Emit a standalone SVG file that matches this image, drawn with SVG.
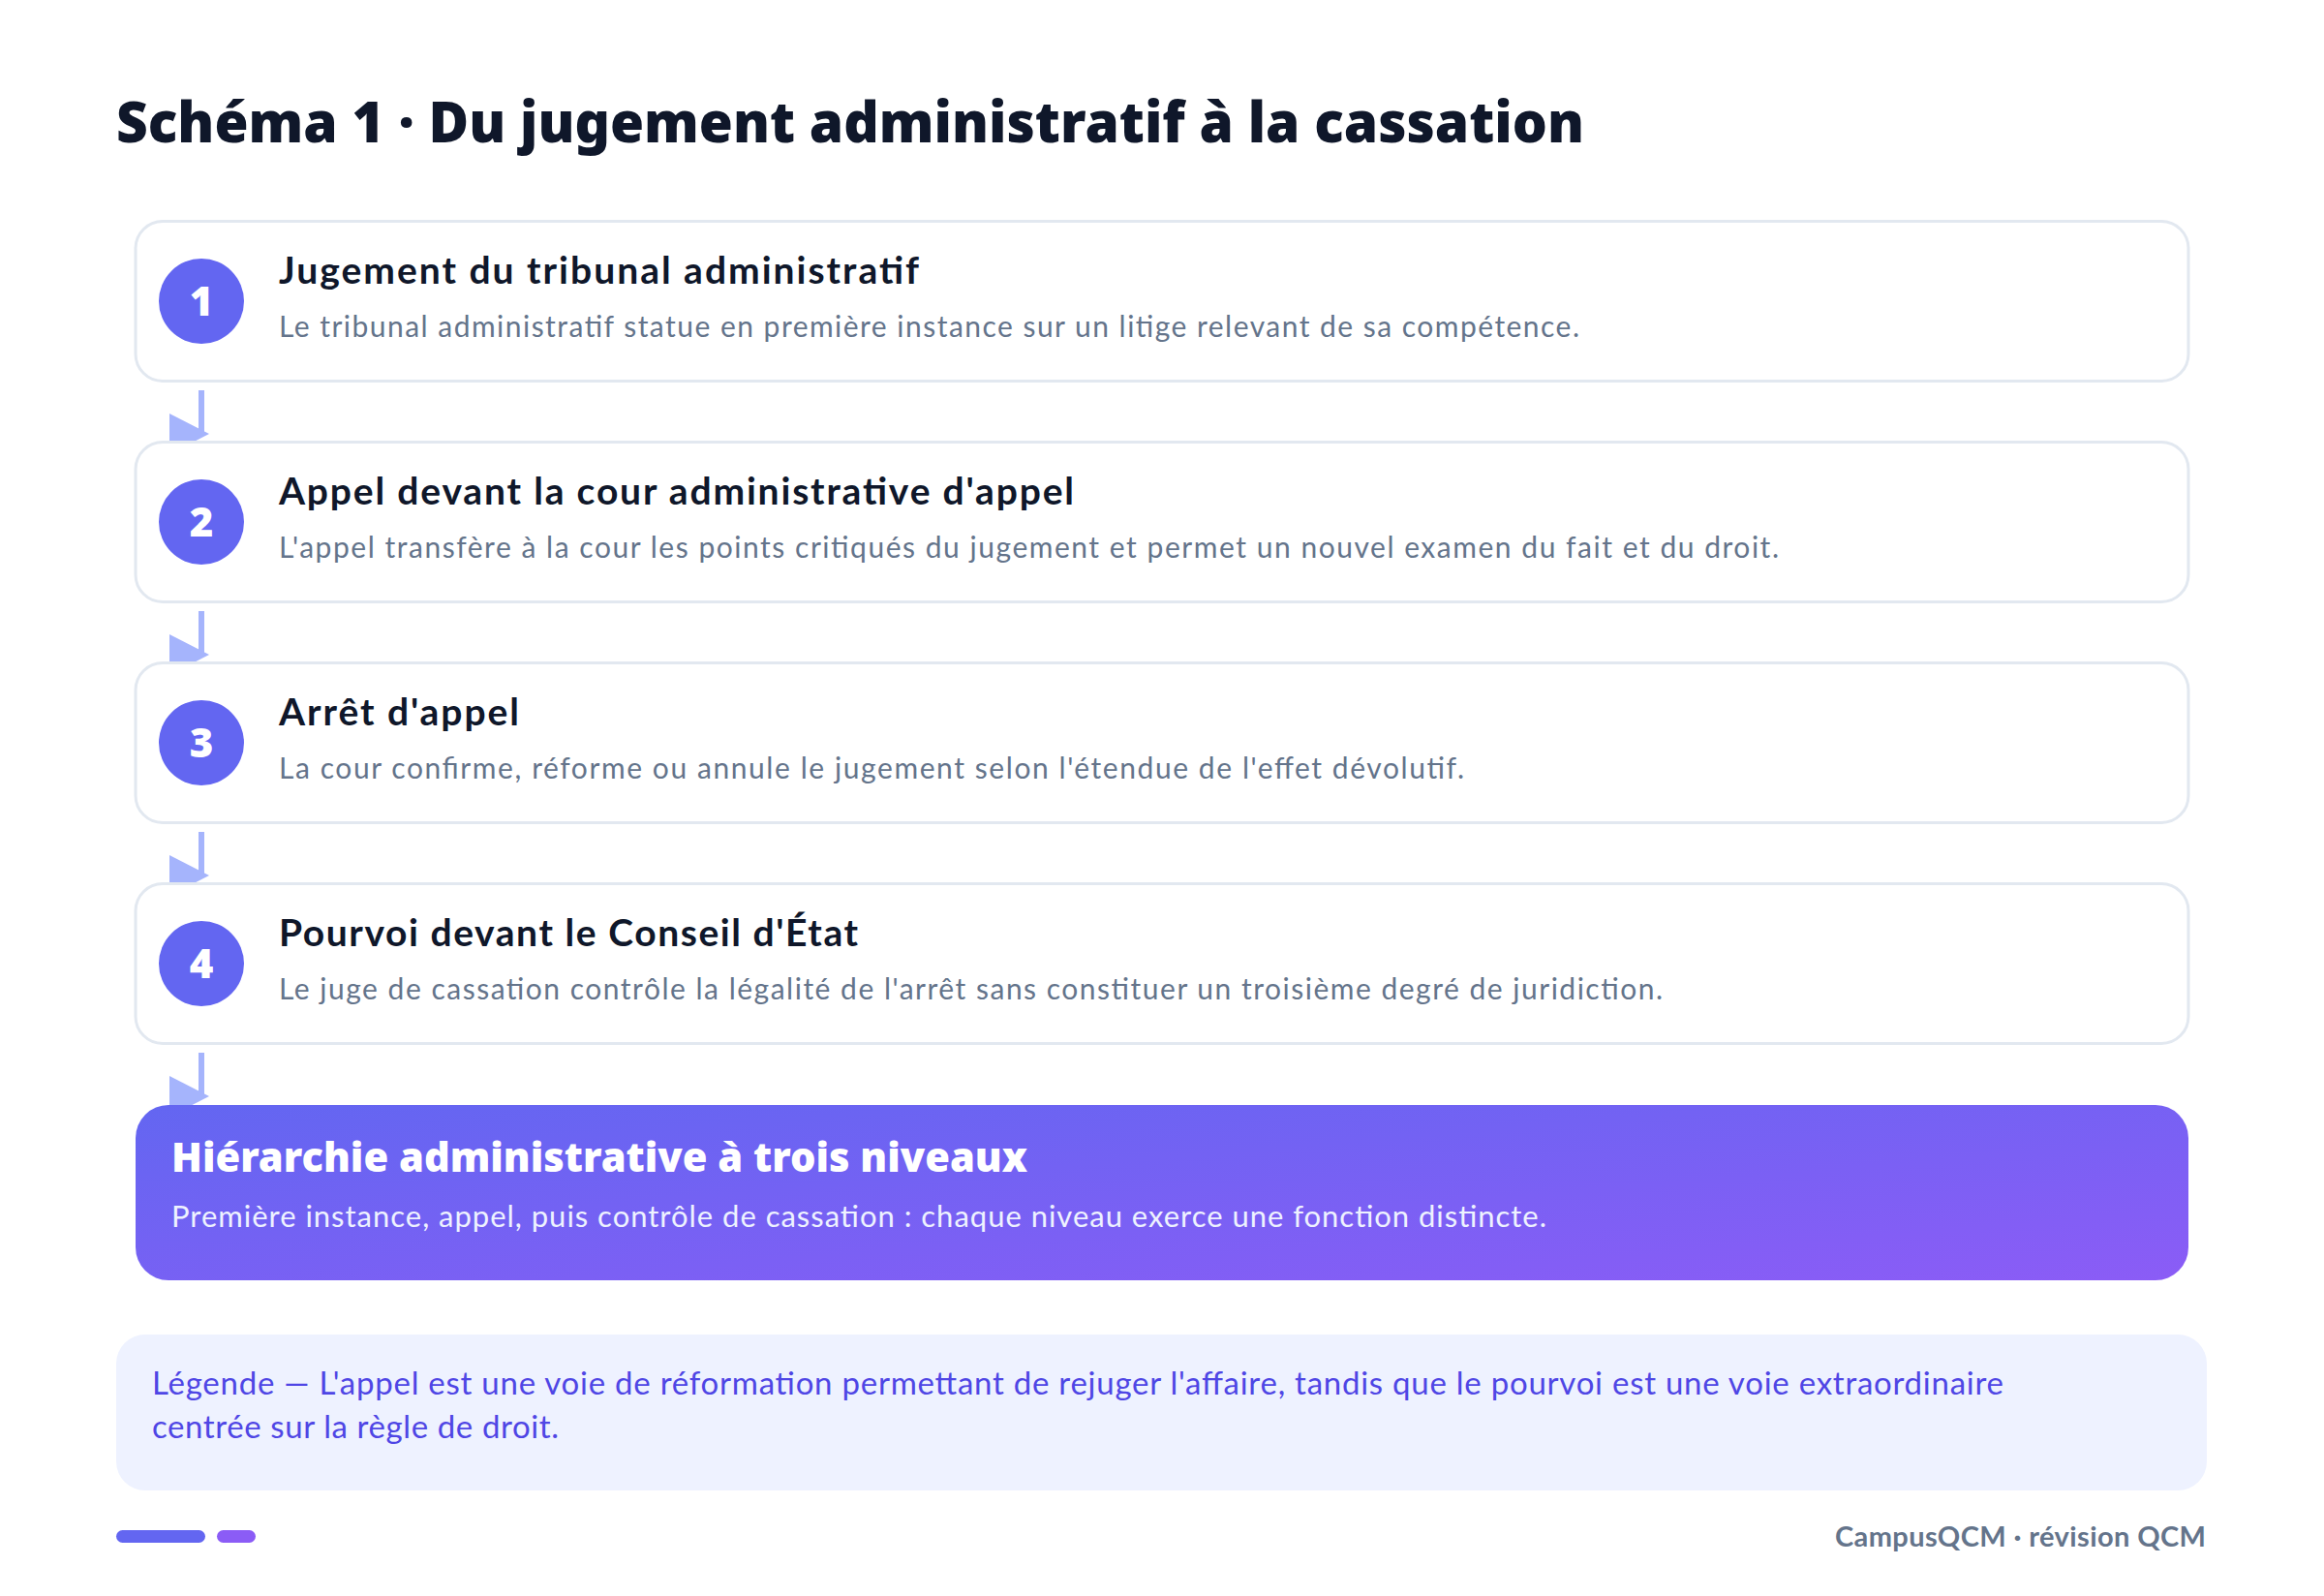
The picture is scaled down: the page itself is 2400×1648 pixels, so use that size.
<svg xmlns="http://www.w3.org/2000/svg" width="2400" height="1648" viewBox="0 0 2400 1648">
<defs>
<linearGradient id="gPurple" x1="0" y1="0" x2="1" y2="1">
<stop offset="0" stop-color="#6366F1"/>
<stop offset="1" stop-color="#8B5CF6"/>
</linearGradient>
<style>
.bg{fill:#FFFFFF}
.title{font-family:"Noto Sans","Open Sans",sans-serif;font-weight:900;font-size:58px;fill:#0F172A}
.card{fill:#FFFFFF;stroke:#E2E8F0;stroke-width:3}
.num{fill:#6366F1}
.numt{font-family:"Noto Sans","Open Sans",sans-serif;font-weight:900;font-size:42px;fill:#FFFFFF;text-anchor:middle}
.ct{font-family:Lato,"Open Sans",sans-serif;font-weight:700;font-size:39px;fill:#0F172A}
.cd{font-family:Lato,"Open Sans",sans-serif;font-weight:400;font-size:30px;fill:#64748B}
.conn line{stroke:#A5B4FC;stroke-width:6}
.conn polygon{fill:#A5B4FC}
.pt{font-family:"Noto Sans","Open Sans",sans-serif;font-weight:900;font-size:43px;fill:#FFFFFF}
.pd{font-family:Lato,"Open Sans",sans-serif;font-weight:400;font-size:31px;fill:#EEF2FF}
.lg{font-family:Lato,"Open Sans",sans-serif;font-weight:400;font-size:33px;fill:#4F46E5}
.ft{font-family:Lato,"Open Sans",sans-serif;font-weight:700;font-size:29px;fill:#64748B;text-anchor:end}
</style>
</defs>
<rect class="bg" x="0" y="0" width="2400" height="1648"/>
<text class="title" x="120" y="147" textLength="1516" lengthAdjust="spacingAndGlyphs">Schéma 1 · Du jugement administratif à la cassation</text>

<g id="connectors" class="conn">
<line x1="208" y1="403" x2="208" y2="450"/>
<polygon points="175,427 216,448 175,469"/>
<line x1="208" y1="631" x2="208" y2="678"/>
<polygon points="175,655 216,676 175,697"/>
<line x1="208" y1="859" x2="208" y2="906"/>
<polygon points="175,883 216,904 175,925"/>
<line x1="208" y1="1087" x2="208" y2="1134"/>
<polygon points="175,1111 216,1132 175,1153"/>
</g>

<g id="step1">
<rect class="card" x="140" y="228.5" width="2120" height="165" rx="28"/>
<circle class="num" cx="208" cy="311" r="44"/>
<text class="numt" x="208" y="326">1</text>
<text class="ct" x="288" y="293" textLength="661">Jugement du tribunal administratif</text>
<text class="cd" x="288" y="348" textLength="1343">Le tribunal administratif statue en première instance sur un litige relevant de sa compétence.</text>
</g>

<g id="step2">
<rect class="card" x="140" y="456.5" width="2120" height="165" rx="28"/>
<circle class="num" cx="208" cy="539" r="44"/>
<text class="numt" x="208" y="554">2</text>
<text class="ct" x="288" y="521" textLength="821">Appel devant la cour administrative d'appel</text>
<text class="cd" x="288" y="576" textLength="1549">L'appel transfère à la cour les points critiqués du jugement et permet un nouvel examen du fait et du droit.</text>
</g>

<g id="step3">
<rect class="card" x="140" y="684.5" width="2120" height="165" rx="28"/>
<circle class="num" cx="208" cy="767" r="44"/>
<text class="numt" x="208" y="782">3</text>
<text class="ct" x="288" y="749" textLength="248">Arrêt d'appel</text>
<text class="cd" x="288" y="804" textLength="1224">La cour confirme, réforme ou annule le jugement selon l'étendue de l'effet dévolutif.</text>
</g>

<g id="step4">
<rect class="card" x="140" y="912.5" width="2120" height="165" rx="28"/>
<circle class="num" cx="208" cy="995" r="44"/>
<text class="numt" x="208" y="1010">4</text>
<text class="ct" x="288" y="977" textLength="598">Pourvoi devant le Conseil d'État</text>
<text class="cd" x="288" y="1032" textLength="1429">Le juge de cassation contrôle la légalité de l'arrêt sans constituer un troisième degré de juridiction.</text>
</g>

<g id="summary">
<rect x="140" y="1141" width="2120" height="181" rx="34" fill="url(#gPurple)"/>
<text class="pt" x="177" y="1210" textLength="884" lengthAdjust="spacingAndGlyphs">Hiérarchie administrative à trois niveaux</text>
<text class="pd" x="177" y="1267" textLength="1420">Première instance, appel, puis contrôle de cassation : chaque niveau exerce une fonction distincte.</text>
</g>

<g id="legend">
<rect x="120" y="1378" width="2159" height="161" rx="30" fill="#EEF2FF"/>
<text class="lg" x="157" y="1440" textLength="1912">Légende — L'appel est une voie de réformation permettant de rejuger l'affaire, tandis que le pourvoi est une voie extraordinaire</text>
<text class="lg" x="157" y="1485" textLength="420">centrée sur la règle de droit.</text>
</g>

<g id="footer">
<rect x="120" y="1580" width="92" height="13" rx="6.5" fill="#6366F1"/>
<rect x="224" y="1580" width="40" height="13" rx="6.5" fill="#8B5CF6"/>
<text class="ft" x="2278" y="1597" textLength="383">CampusQCM · révision QCM</text>
</g>
</svg>
